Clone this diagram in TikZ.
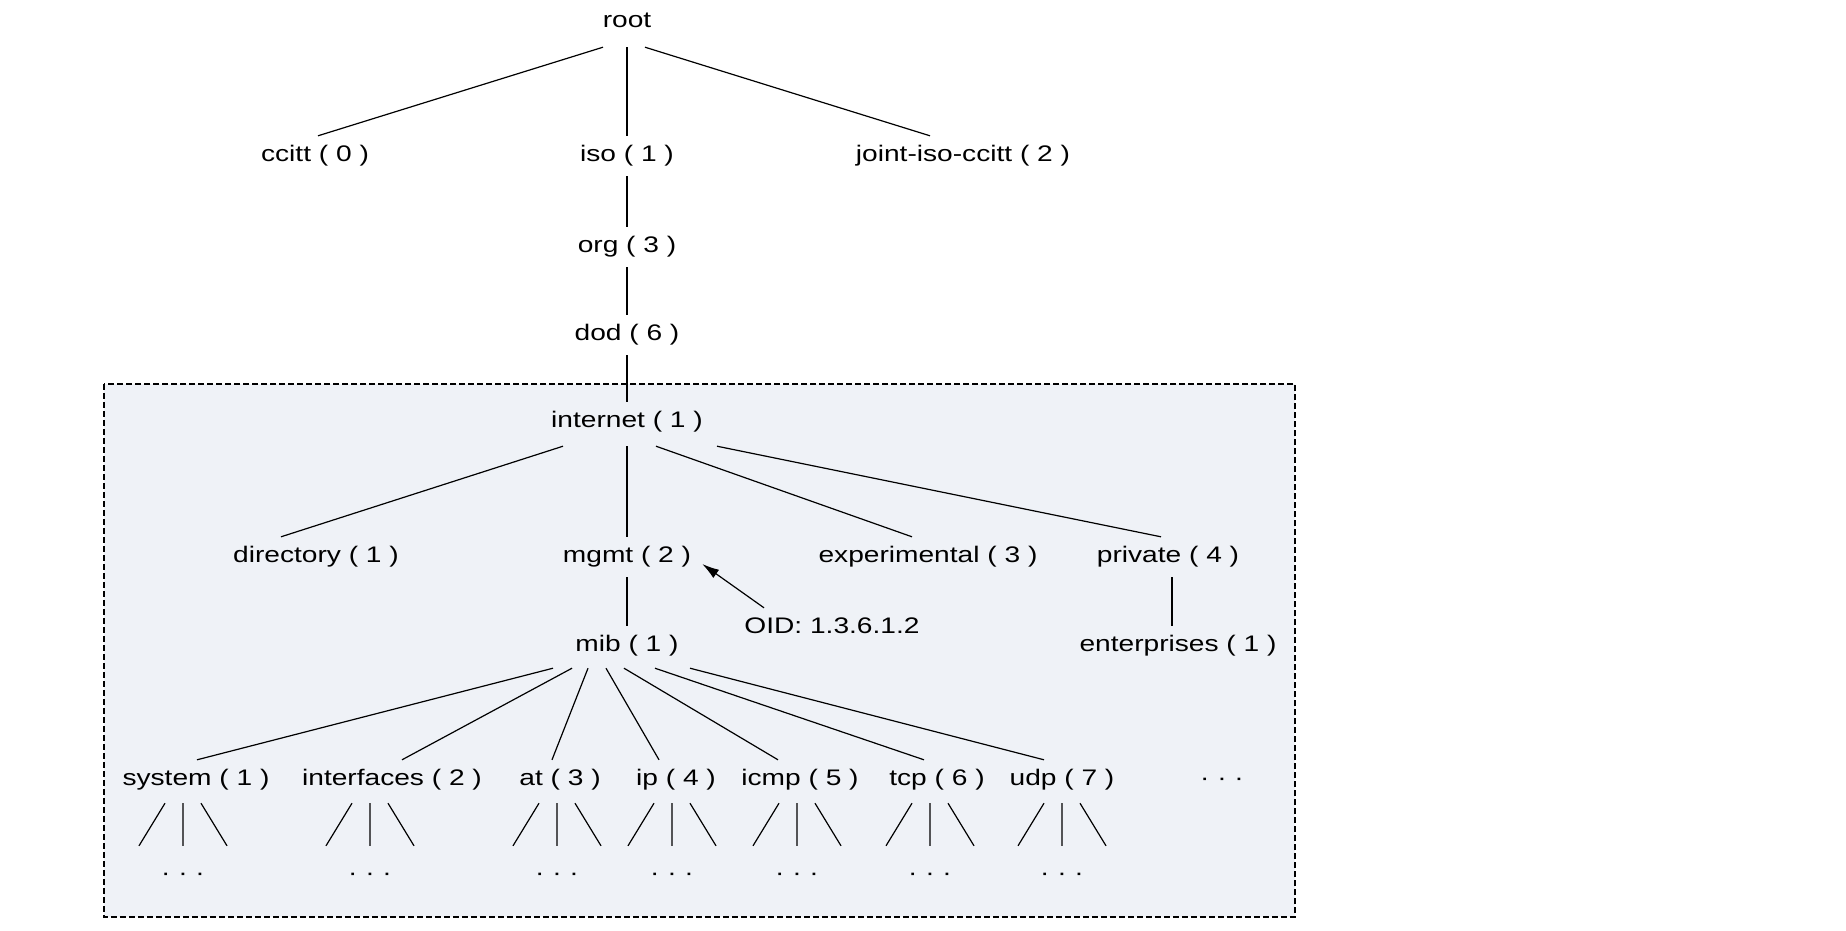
\documentclass[tikz,border=0pt]{standalone}
\usepackage{fontspec}
\setmainfont{Liberation Sans}[FakeStretch=1.25]
\usetikzlibrary{arrows.meta}
\definecolor{fondcadre}{RGB}{239,242,247}
\begin{document}
\begin{tikzpicture}[x=1pt,y=-1pt]
			% Styles
			\tikzstyle{trait}=[-,line width=1.2pt]
			\tikzstyle{fleche}=[->,>={Latex[length=17pt,width=10pt]},line width=1.2pt]
			\tikzstyle{noeud}=[inner sep=0pt,minimum height=40pt,text height=16pt,text depth=5pt,font=\fontsize{22.5}{27}\selectfont]
			\tikzstyle{suite}=[noeud,minimum height=58pt]
			\tikzstyle{cadre}=[draw=black,line width=1.5pt,dash pattern=on 6pt off 3pt,fill=fondcadre]
			% Niveaux
			\def\NiveauA{22}
			\def\NiveauB{156}
			\def\NiveauC{247}
			\def\NiveauD{335}
			\def\NiveauE{422}
			\def\NiveauF{557}
			\def\NiveauG{646}
			\def\NiveauH{780}
			\def\NiveauI{875}
			\useasboundingbox (0,0) rectangle (1846,930);
			% Cadre
			\draw[cadre] (104,384) rectangle (1295,917);
			% Noeuds
			\node[noeud] (R) at (627,\NiveauA) {root};
			\node[noeud] (R0) at (315,\NiveauB) {ccitt ( 0 )};
			\node[noeud] (R1) at (627,\NiveauB) {iso ( 1 )};
			\node[noeud] (R2) at (963,\NiveauB) {joint-iso-ccitt ( 2 )};
			\node[noeud] (R13) at (627,\NiveauC) {org ( 3 )};
			\node[noeud] (R136) at (627,\NiveauD) {dod ( 6 )};
			\node[noeud] (R1361) at (627,\NiveauE) {internet ( 1 )};
			\node[noeud] (R13611) at (316,\NiveauF) {directory ( 1 )};
			\node[noeud] (R13612) at (627,\NiveauF) {mgmt ( 2 )};
			\node[noeud] (R13613) at (928,\NiveauF) {experimental ( 3 )};
			\node[noeud] (R13614) at (1168,\NiveauF) {private ( 4 )};
			\node[noeud] (OID) at (832,628) {OID: 1.3.6.1.2};
			\node[noeud] (R136121) at (627,\NiveauG) {mib ( 1 )};
			\node[noeud] (R136141) at (1178,\NiveauG) {enterprises ( 1 )};
			\node[noeud] (R1361211) at (196,\NiveauH) {system ( 1 )};
			\node[noeud] (R1361212) at (392,\NiveauH) {interfaces ( 2 )};
			\node[noeud] (R1361213) at (560,\NiveauH) {at ( 3 )};
			\node[noeud] (R1361214) at (676,\NiveauH) {ip ( 4 )};
			\node[noeud] (R1361215) at (800,\NiveauH) {icmp ( 5 )};
			\node[noeud] (R1361216) at (937,\NiveauH) {tcp ( 6 )};
			\node[noeud] (R1361217) at (1062,\NiveauH) {udp ( 7 )};
			\node[noeud] (R136121x) at (1222,\NiveauH) {· · ·};
			\node[suite] (S1361211) at (183,\NiveauI) {· · ·};
			\node[suite] (S1361212) at (370,\NiveauI) {· · ·};
			\node[suite] (S1361213) at (557,\NiveauI) {· · ·};
			\node[suite] (S1361214) at (672,\NiveauI) {· · ·};
			\node[suite] (S1361215) at (797,\NiveauI) {· · ·};
			\node[suite] (S1361216) at (930,\NiveauI) {· · ·};
			\node[suite] (S1361217) at (1062,\NiveauI) {· · ·};
			% Arcs
			\draw[trait] ([xshift=-24pt,yshift=-5pt]R.south)--([xshift=3pt]R0.north);
			\draw[trait] ([yshift=-5pt]R.south)--(R1.north);
			\draw[trait] ([xshift=18pt,yshift=-5pt]R.south)--([xshift=-33pt]R2.north);
			\draw[trait] (R1.south)--(R13.north);
			\draw[trait] (R13.south)--(R136.north);
			\draw[trait] (R136.south)--(R1361.north);
			\draw[trait] ([xshift=-64pt,yshift=-4pt]R1361.south)--([xshift=-35pt]R13611.north);
			\draw[trait] ([yshift=-4pt]R1361.south)--(R13612.north);
			\draw[trait] ([xshift=29pt,yshift=-4pt]R1361.south)--([xshift=-16pt]R13613.north);
			\draw[trait] ([xshift=90pt,yshift=-4pt]R1361.south)--([xshift=-7pt]R13614.north);
			\draw[trait] (R13612.south)--(R136121.north);
			\draw[trait] ([xshift=4pt]R13614.south)--([xshift=-6pt]R136141.north);
			\draw[fleche] ([xshift=-68pt]OID.north)--([xshift=11pt,yshift=-7pt]R13612.east);
			\draw[trait] ([xshift=-74pt,yshift=-2pt]R136121.south)--([xshift=1pt]R1361211.north);
			\draw[trait] ([xshift=-55pt,yshift=-2pt]R136121.south)--([xshift=10pt]R1361212.north);
			\draw[trait] ([xshift=-39pt,yshift=-2pt]R136121.south)--([xshift=-8pt]R1361213.north);
			\draw[trait] ([xshift=-21pt,yshift=-2pt]R136121.south)--([xshift=-17pt]R1361214.north);
			\draw[trait] ([xshift=-3pt,yshift=-2pt]R136121.south)--([xshift=-22pt]R1361215.north);
			\draw[trait] ([xshift=28pt,yshift=-2pt]R136121.south)--([xshift=-13pt]R1361216.north);
			\draw[trait] ([xshift=63pt,yshift=-2pt]R136121.south)--([xshift=-18pt]R1361217.north);
			% Branches vers les suites
			\draw[trait] ([xshift=-31pt,yshift=-3pt]R1361211.south)--([xshift=-44pt]S1361211.north)
				([xshift=-13pt,yshift=-3pt]R1361211.south)--(S1361211.north)
				([xshift=5pt,yshift=-3pt]R1361211.south)--([xshift=44pt]S1361211.north);
			\draw[trait] ([xshift=-40pt,yshift=-3pt]R1361212.south)--([xshift=-44pt]S1361212.north)
				([xshift=-22pt,yshift=-3pt]R1361212.south)--(S1361212.north)
				([xshift=-4pt,yshift=-3pt]R1361212.south)--([xshift=44pt]S1361212.north);
			\draw[trait] ([xshift=-21pt,yshift=-3pt]R1361213.south)--([xshift=-44pt]S1361213.north)
				([xshift=-3pt,yshift=-3pt]R1361213.south)--(S1361213.north)
				([xshift=15pt,yshift=-3pt]R1361213.south)--([xshift=44pt]S1361213.north);
			\draw[trait] ([xshift=-22pt,yshift=-3pt]R1361214.south)--([xshift=-44pt]S1361214.north)
				([xshift=-4pt,yshift=-3pt]R1361214.south)--(S1361214.north)
				([xshift=14pt,yshift=-3pt]R1361214.south)--([xshift=44pt]S1361214.north);
			\draw[trait] ([xshift=-21pt,yshift=-3pt]R1361215.south)--([xshift=-44pt]S1361215.north)
				([xshift=-3pt,yshift=-3pt]R1361215.south)--(S1361215.north)
				([xshift=15pt,yshift=-3pt]R1361215.south)--([xshift=44pt]S1361215.north);
			\draw[trait] ([xshift=-25pt,yshift=-3pt]R1361216.south)--([xshift=-44pt]S1361216.north)
				([xshift=-7pt,yshift=-3pt]R1361216.south)--(S1361216.north)
				([xshift=11pt,yshift=-3pt]R1361216.south)--([xshift=44pt]S1361216.north);
			\draw[trait] ([xshift=-18pt,yshift=-3pt]R1361217.south)--([xshift=-44pt]S1361217.north)
				([yshift=-3pt]R1361217.south)--(S1361217.north)
				([xshift=18pt,yshift=-3pt]R1361217.south)--([xshift=44pt]S1361217.north);
\end{tikzpicture}
\end{document}
